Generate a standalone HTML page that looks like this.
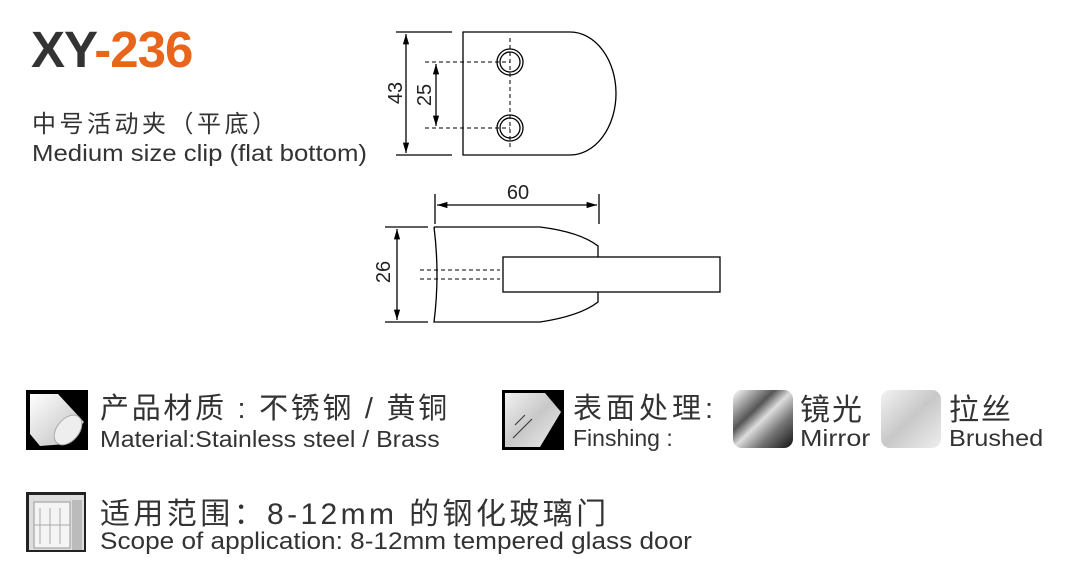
<!DOCTYPE html>
<html><head><meta charset="utf-8"><style>
body{margin:0;width:1066px;height:577px;background:#fff;position:relative;overflow:hidden;font-family:"Liberation Sans","Noto Sans CJK SC",sans-serif;color:#333}
.t{position:absolute;white-space:nowrap;transform-origin:0 0}
</style></head><body>
<div class="t" style="left:31px;top:20px;font-size:51px;font-weight:bold;letter-spacing:-1px"><span style="color:#333">XY</span><span style="color:#e8661c">-236</span></div>
<div class="t" style="left:32px;top:104px;font-size:24px;letter-spacing:3.5px">中号活动夹（平底）</div>
<div class="t" style="left:32px;top:140px;font-size:23px;transform:scaleX(1.12)">Medium size clip (flat bottom)</div>

<svg width="1066" height="577" style="position:absolute;left:0;top:0" xmlns="http://www.w3.org/2000/svg">
<defs>
<marker id="a" viewBox="0 0 10 10" refX="10" refY="5" markerWidth="8" markerHeight="8" orient="auto-start-reverse"><path d="M0,2 L10,5 L0,8z" fill="#000"/></marker>
<linearGradient id="m" x1="0" y1="0" x2="1" y2="1"><stop offset="0" stop-color="#fff"/><stop offset=".35" stop-color="#555"/><stop offset=".5" stop-color="#ddd"/><stop offset=".7" stop-color="#777"/><stop offset="1" stop-color="#111"/></linearGradient>
<linearGradient id="b" x1="0" y1="0" x2="1" y2="1"><stop offset="0" stop-color="#f2f2f2"/><stop offset=".5" stop-color="#c8c8c8"/><stop offset="1" stop-color="#eee"/></linearGradient>
<linearGradient id="c" x1="0" y1="0" x2="1" y2="1"><stop offset="0" stop-color="#fff"/><stop offset="1" stop-color="#bbb"/></linearGradient>
</defs>
<g fill="none" stroke="#000" stroke-width="1.3">
<path d="M396,32H452M396,155H452"/>
<path d="M406,34V153" marker-start="url(#a)" marker-end="url(#a)"/>
<path d="M436,64V126" marker-start="url(#a)" marker-end="url(#a)"/>
<path d="M463,32H570A46,61.5 0 0 1 570,155H463Z"/>
<circle cx="510" cy="62" r="13"/><circle cx="510" cy="62" r="10"/>
<circle cx="510" cy="128" r="13"/><circle cx="510" cy="128" r="10"/>
<path d="M425,62H510M425,128H510M510,38V150" stroke-dasharray="4,3" stroke-width="1"/>
<path d="M435,194V224M599,194V224"/>
<path d="M437,205H597" marker-start="url(#a)" marker-end="url(#a)"/>
<path d="M385,227H428M385,322H428"/>
<path d="M397,229V320" marker-start="url(#a)" marker-end="url(#a)"/>
<path d="M434,227H540Q580,232 598,246V257M598,292V302Q580,316 540,322H434Q440,275 434,227"/>
<rect x="503" y="257" width="217" height="35"/>
<path d="M420,270H500M420,279H500" stroke-dasharray="4,3" stroke-width="1"/>
</g>
<g font-family="Liberation Sans, sans-serif" font-size="20" fill="#222">
<text x="518" y="199" text-anchor="middle">60</text>
<text transform="translate(402,93) rotate(-90)" text-anchor="middle">43</text>
<text transform="translate(431,95) rotate(-90)" text-anchor="middle">25</text>
<text transform="translate(390,272) rotate(-90)" text-anchor="middle">26</text>
</g>
<rect x="26" y="390" width="62" height="60" fill="#000"/>
<path d="M30,394H58L84,422L66,444L40,446L30,434Z" fill="url(#c)"/>
<ellipse cx="68" cy="430" rx="11" ry="17" transform="rotate(40 68 430)" fill="#eee" stroke="#aaa"/>
<rect x="502" y="390" width="62" height="60" fill="#000"/>
<path d="M505,393H545L561,412L540,447H505Z" fill="url(#b)"/>
<path d="M515,425L525,415M513,438L532,419" stroke="#333" stroke-width="1"/>
<rect x="733" y="390" width="60" height="58" rx="9" fill="url(#m)"/>
<rect x="881" y="390" width="60" height="58" rx="9" fill="url(#b)"/>
<rect x="26" y="492" width="60" height="60" fill="#222"/>
<rect x="29" y="495" width="55" height="55" fill="#ddd"/>
<rect x="34" y="502" width="36" height="46" fill="#f4f4f4" stroke="#999"/>
<path d="M40,508V544M50,508V544M60,508V544M34,525H70" stroke="#aaa"/>
<rect x="72" y="500" width="10" height="50" fill="#bbb"/>
</svg>

<div class="t" style="left:100px;top:385px;font-size:29px;letter-spacing:2.7px">产品材质 : 不锈钢 / 黄铜</div>
<div class="t" style="left:100px;top:426px;font-size:23px;transform:scaleX(1.08)">Material:Stainless steel / Brass</div>
<div class="t" style="left:573px;top:385px;font-size:29px;letter-spacing:4px">表面处理:</div>
<div class="t" style="left:573px;top:425px;font-size:23px">Finshing :</div>
<div class="t" style="left:800px;top:385px;font-size:30px;letter-spacing:2px">镜光</div>
<div class="t" style="left:800px;top:425px;font-size:23px;transform:scaleX(1.17)">Mirror</div>
<div class="t" style="left:949px;top:385px;font-size:30px;letter-spacing:2px">拉丝</div>
<div class="t" style="left:949px;top:425px;font-size:23px;transform:scaleX(1.1)">Brushed</div>
<div class="t" style="left:100px;top:489px;font-size:30px;letter-spacing:3.4px">适用范围：8-12mm 的钢化玻璃门</div>
<div class="t" style="left:100px;top:528px;font-size:24px;transform:scaleX(1.09)">Scope of application: 8-12mm tempered glass door</div>
</body></html>
